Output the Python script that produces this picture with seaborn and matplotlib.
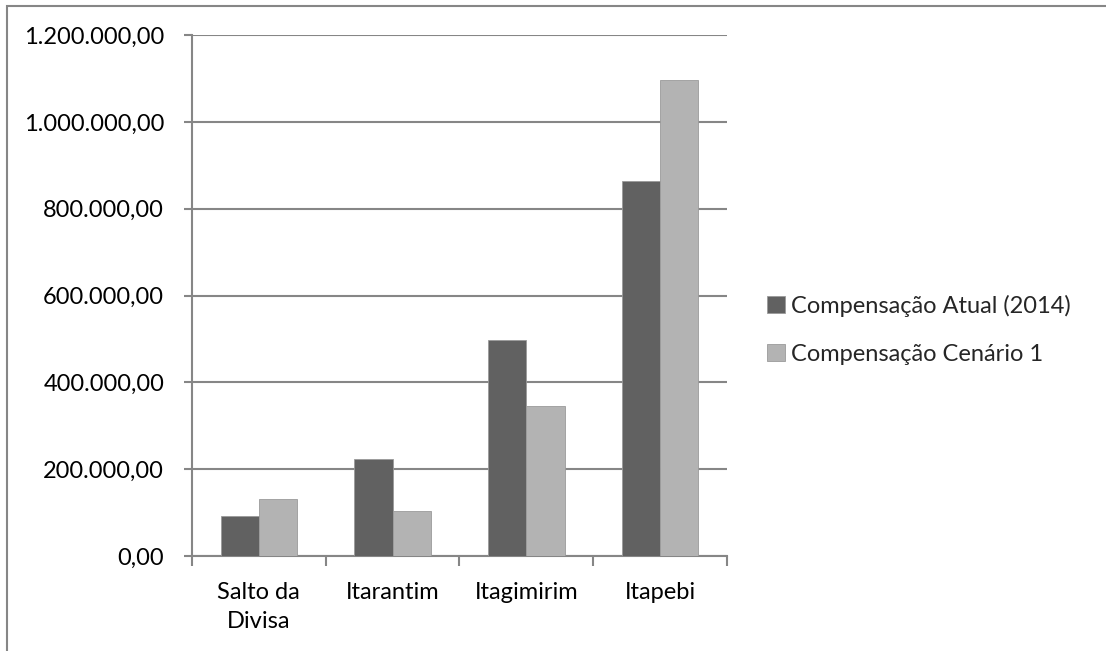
import matplotlib
matplotlib.use("Agg")
import matplotlib.pyplot as plt
import matplotlib.patches as mpatches
from matplotlib.ticker import FuncFormatter, FixedLocator
import seaborn as sns
import pandas as pd

# data
municipios = ["Salto da\nDivisa", "Itarantim", "Itagimirim", "Itapebi"]
series = ["Compensação Atual (2014)", "Compensação Cenário 1"]
atual_2014 = [92000, 223000, 497000, 863000]
cenario_1 = [131000, 103000, 345000, 1097000]
yticks = [0, 200000, 400000, 600000, 800000, 1000000, 1200000]

cores = ["#616161", "#b3b3b3"]
cinza = "#868686"

df = pd.DataFrame({
    "Município": municipios * 2,
    "Série": [series[0]] * 4 + [series[1]] * 4,
    "Valor": atual_2014 + cenario_1,
})

sns.set_style("white")
plt.rcParams["font.family"] = ["Lato", "DejaVu Sans"]

fig = plt.figure(figsize=(11.06, 6.51), dpi=100)
ax = fig.add_axes([0.1736, 0.1459, 0.4837, 0.8003])

sns.barplot(data=df, x="Município", y="Valor", hue="Série", palette=cores,
            width=0.572, edgecolor="#9a9a9a", linewidth=0.6, errorbar=None,
            ax=ax, zorder=3)

ax.set_ylim(0, 1200000)
ax.set_xlim(-0.5, 3.5)
ax.set_yticks(yticks)
ax.yaxis.set_major_formatter(FuncFormatter(
    lambda v, p: f"{v:,.2f}".replace(",", "X").replace(".", ",").replace("X", ".")))
ax.set_xlabel("")
ax.set_ylabel("")

ax.grid(axis="y", color=cinza, linewidth=1.5)
ax.set_axisbelow(True)
for s in ["top", "right"]:
    ax.spines[s].set_visible(False)
for s in ["left", "bottom"]:
    ax.spines[s].set_color(cinza)
    ax.spines[s].set_linewidth(1.5)

ax.tick_params(axis="y", direction="out", length=6, width=1.5, color=cinza,
               pad=14, labelsize=17, labelcolor="black", left=True)
ax.tick_params(axis="x", which="major", length=0, pad=19, labelsize=17,
               labelcolor="black")
ax.xaxis.set_minor_locator(FixedLocator([-0.5, 0.5, 1.5, 2.5, 3.5]))
ax.tick_params(axis="x", which="minor", direction="out", length=7, width=1.5,
               color=cinza, bottom=True)
for lbl in ax.get_xticklabels():
    lbl.set_linespacing(1.45)

handles, labels = ax.get_legend_handles_labels()
ax.legend(handles, labels, loc="center left", bbox_to_anchor=(1.036, 0.434),
          frameon=False, fontsize=17, handlelength=0.75, handleheight=0.75,
          handletextpad=0.25, labelspacing=1.15)

# outer chart border (cut off at right and bottom in the reference)
fig.patches.append(mpatches.Rectangle((7 / 1106, -0.2), 2, 1.2 - 6 / 651,
                                      transform=fig.transFigure, fill=False,
                                      edgecolor=cinza, linewidth=1.5))

fig.savefig("out.png", dpi=100)
